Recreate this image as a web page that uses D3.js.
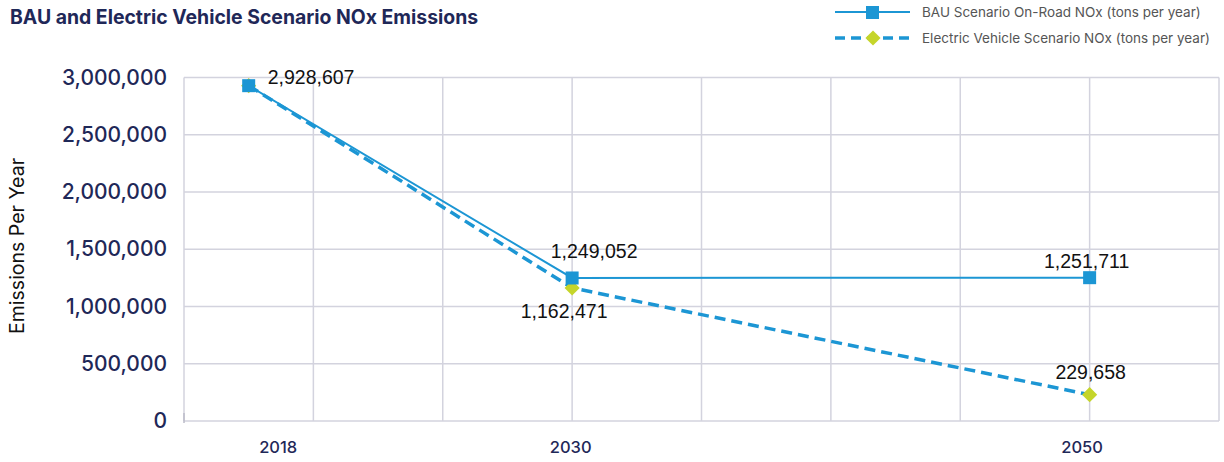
<!DOCTYPE html>
<html>
<head>
<meta charset="utf-8">
<script src="https://cdn.jsdelivr.net/npm/d3@7"></script>
<style>
  body { margin: 0; background: #fff; }
  svg { display: block; }
</style>
</head>
<body>
<div id="chart"></div>
<script>
var years = [2018, 2030, 2050];
var bauValues = [2928607, 1249052, 1251711];
var evValues = [2928607, 1162471, 229658];
var yTicks = [0, 500000, 1000000, 1500000, 2000000, 2500000, 3000000];
var seriesNames = ["BAU Scenario On-Road NOx (tons per year)", "Electric Vehicle Scenario NOx (tons per year)"];

var width = 1224, height = 462;
var margin = { left: 184, right: 5, top: 77.5, bottom: 41 };
var w = width - margin.left - margin.right;
var h = height - margin.top - margin.bottom;

var navy = "#1f2858";
var blue = "#1c96d4";
var green = "#c5d52a";
var gridColor = "#d3d3de";

var svg = d3.select("#chart").append("svg")
    .attr("width", width)
    .attr("height", height);

// title
svg.append("text")
    .attr("x", 10).attr("y", 24)
    .style("font-family", "Inter")
    .style("font-weight", "bold")
    .style("font-size", "19.4px")
    .style("fill", navy)
    .text("BAU and Electric Vehicle Scenario NOx Emissions");

var g = svg.append("g").attr("transform", "translate(" + margin.left + "," + margin.top + ")");

// the original places the years on an 8-column grid
var x = d3.scaleLinear().domain(years).range([w * 0.5 / 8, w * 3 / 8, w * 7 / 8]);
var y = d3.scaleLinear().domain([0, 3000000]).range([h, 0]);

// grid
g.selectAll(".hgrid").data(yTicks).enter().append("line")
    .attr("x1", 0).attr("x2", w)
    .attr("y1", function (d) { return y(d); })
    .attr("y2", function (d) { return y(d); })
    .style("stroke", gridColor).style("stroke-width", 1.5);

g.selectAll(".vgrid").data(d3.range(9)).enter().append("line")
    .attr("x1", function (d) { return d * w / 8; })
    .attr("x2", function (d) { return d * w / 8; })
    .attr("y1", 0).attr("y2", h)
    .style("stroke", gridColor).style("stroke-width", 1.5);

g.append("line").attr("x1", 0).attr("x2", 0).attr("y1", h - 8).attr("y2", h + 2)
    .style("stroke", "#bbbbc8").style("stroke-width", 1.5);

// y axis
var yAxis = d3.axisLeft(y).tickValues(yTicks).tickSize(0).tickPadding(17)
    .tickFormat(d3.format(","));
var ya = g.append("g").call(yAxis);
ya.select(".domain").remove();
ya.selectAll("text")
    .style("font-family", "Inter")
    .style("font-weight", 500)
    .style("font-size", "21px")
    .style("fill", navy);

// x axis
var xAxis = d3.axisBottom(x).tickValues(years).tickSize(0).tickPadding(20)
    .tickFormat(d3.format("d"));
var xa = g.append("g").attr("transform", "translate(0," + h + ")").call(xAxis);
xa.select(".domain").remove();
xa.selectAll("text")
    .style("font-family", "Inter")
    .style("font-weight", 500)
    .style("font-size", "16.5px")
    .style("fill", navy)
    .attr("dx", function (d, i) { return [29, -2, -8][i]; });

// y title
svg.append("text")
    .attr("transform", "translate(24,246) rotate(-90)")
    .attr("text-anchor", "middle")
    .style("font-family", "Inter")
    .style("font-size", "19.5px")
    .style("fill", "#111")
    .text("Emissions Per Year");

var line = d3.line()
    .x(function (d, i) { return x(years[i]); })
    .y(function (d) { return y(d); });

g.append("path").datum(evValues)
    .attr("d", line)
    .style("fill", "none").style("stroke", blue)
    .style("stroke-width", 3.5).style("stroke-dasharray", "11,6");

g.append("path").datum(bauValues)
    .attr("d", line)
    .style("fill", "none").style("stroke", blue)
    .style("stroke-width", 2);

var diamond = d3.symbol().type(d3.symbolSquare).size(115);

g.selectAll(".ev").data(evValues).enter().append("path")
    .attr("d", diamond)
    .attr("transform", function (d, i) { return "translate(" + x(years[i]) + "," + y(d) + ") rotate(45)"; })
    .style("fill", green);

g.selectAll(".bau").data(bauValues).enter().append("rect")
    .attr("x", function (d, i) { return x(years[i]) - 6.5; })
    .attr("y", function (d) { return y(d) - 6.5; })
    .attr("width", 13).attr("height", 13)
    .style("fill", blue);

// data labels
var fmt = d3.format(",");
var labels = [
    { v: bauValues[0], i: 0, dx: 19, dy: -2, anchor: "start" },
    { v: bauValues[1], i: 1, dx: 22, dy: -20, anchor: "middle" },
    { v: evValues[1], i: 1, dx: -8, dy: 30, anchor: "middle" },
    { v: bauValues[2], i: 2, dx: -3, dy: -10, anchor: "middle" },
    { v: evValues[2], i: 2, dx: 1, dy: -16, anchor: "middle" }
];
g.selectAll(".lbl").data(labels).enter().append("text")
    .attr("x", function (d) { return x(years[d.i]) + d.dx; })
    .attr("y", function (d) { return y(d.v) + d.dy; })
    .attr("text-anchor", function (d) { return d.anchor; })
    .style("font-family", "Liberation Sans")
    .style("font-size", "19.5px")
    .style("fill", "#111")
    .text(function (d) { return fmt(d.v); });

// legend
var legend = svg.append("g").attr("transform", "translate(835,12)");
var li = legend.selectAll("g").data(seriesNames).enter().append("g")
    .attr("transform", function (d, i) { return "translate(0," + i * 26 + ")"; });
li.append("line").attr("x1", 0).attr("x2", 75)
    .style("stroke", blue)
    .style("stroke-width", function (d, i) { return i ? 3.5 : 2; })
    .style("stroke-dasharray", function (d, i) { return i ? "10,6" : null; });
li.filter(function (d, i) { return i === 0; }).append("rect")
    .attr("x", 31).attr("y", -6).attr("width", 13).attr("height", 13)
    .style("fill", blue);
li.filter(function (d, i) { return i === 1; }).append("path")
    .attr("d", diamond)
    .attr("transform", "translate(38,0) rotate(45)")
    .style("fill", green);
li.append("text").attr("x", 87).attr("y", 5)
    .style("font-family", "Inter")
    .style("font-size", "13.5px")
    .style("fill", "#555")
    .text(function (d) { return d; });
</script>
</body>
</html>
